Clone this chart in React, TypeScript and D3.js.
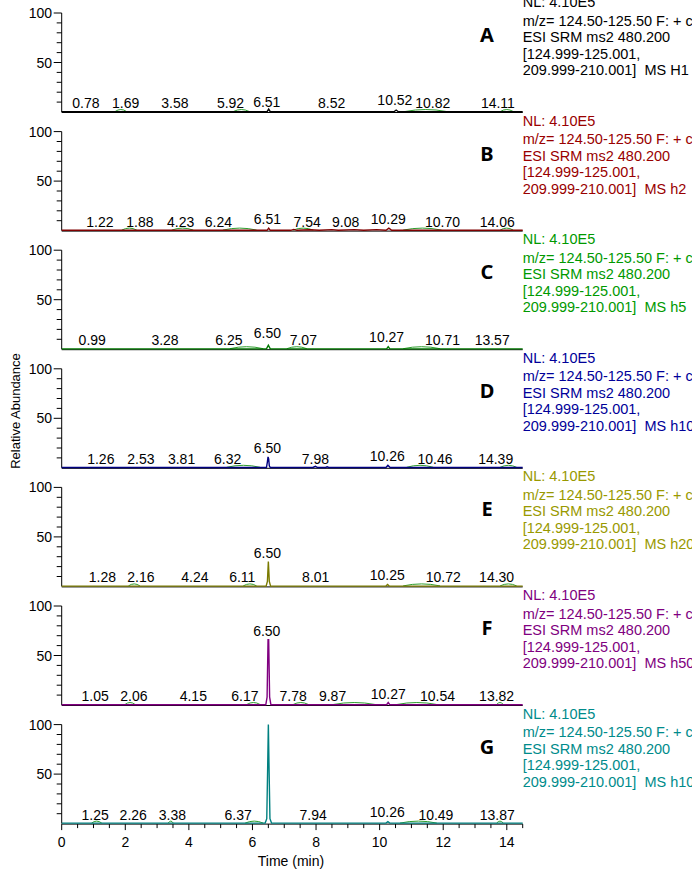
import React from "react";
import * as d3 from "d3";

// ---------- data ----------
const panelIds = ["A", "B", "C", "D", "E", "F", "G"];
const sampleIds = ["MS H1", "MS h2", "MS h5", "MS h10", "MS h20", "MS h50", "MS h100"];
const traceColors = ["#000000", "#800000", "#007800", "#000080", "#7a7a00", "#800080", "#008080"];
const textColors = ["#000000", "#990000", "#009900", "#000099", "#999900", "#800080", "#008b8b"];
const nlText = "NL: 4.10E5";
const mzText = "m/z= 124.50-125.50 F: + c ESI SRM";
const esiText = "ESI SRM ms2 480.200";
const rangeText1 = "[124.999-125.001,";
const rangeText2 = "209.999-210.001]";

const xTicksMajor = [0, 2, 4, 6, 8, 10, 12, 14];
const yTicks = [10, 20, 30, 40, 50, 60, 70, 80, 90, 100];
const yTickLabels = [50, 100];

const labelsA = ["0.78", "1.69", "3.58", "5.92", "6.51", "8.52", "10.52", "10.82", "14.11"];
const posA = [0.76, 2.01, 3.56, 5.31, 6.45, 8.49, 10.48, 11.67, 13.72];
const apexA = [0, 0, 0, 0, 1, 0, 3, 0, 0];
const arcsA = [[1.68, 2.04], [5.4, 5.9], [10.8, 12.1], [13.8, 14.2]];
const timesA = [0, 6.46, 6.51, 6.56, 10.45, 10.52, 10.59, 14.5];
const valsA = [0.3, 0.3, 3, 0.3, 0.3, 2, 0.3, 0.3];

const labelsB = ["1.22", "1.88", "4.23", "6.24", "6.51", "7.54", "9.08", "10.29", "10.70", "14.06"];
const posB = [1.2, 2.46, 3.74, 4.93, 6.47, 7.72, 8.93, 10.27, 11.98, 13.7];
const apexB = [0, 0, 0, 0, 3, 0, 0, 3, 0, 0];
const arcsB = [[1.89, 2.36], [3.46, 4.14], [5.07, 6.13], [7.28, 7.91], [10.74, 11.95], [13.79, 14.2]];
const timesB = [0, 6.46, 6.51, 6.56, 7.2, 7.3, 7.4, 7.8, 8.1, 8.5, 8.7, 9.2, 9.5, 9.9, 10.2, 10.29, 10.38, 14.5];
const valsB = [0.3, 0.3, 2.5, 0.3, 0.3, 1.2, 0.3, 0.8, 0.3, 1, 0.3, 1, 0.4, 1, 0.4, 2.5, 0.3, 0.3];

const labelsC = ["0.99", "3.28", "6.25", "6.50", "7.07", "10.27", "10.71", "13.57"];
const posC = [0.96, 3.25, 5.26, 6.47, 7.6, 10.22, 11.98, 13.54];
const apexC = [0, 0, 0, 7, 0, 3, 0, 0];
const arcsC = [[5.29, 6.34], [7.08, 7.71], [10.74, 11.9]];
const timesC = [0, 6.44, 6.5, 6.56, 10.22, 10.27, 10.32, 14.5];
const valsC = [0.3, 0.3, 4, 0.3, 0.3, 2.5, 0.3, 0.3];

const labelsD = ["1.26", "2.53", "3.81", "6.32", "6.50", "7.98", "10.26", "10.46", "14.39"];
const posD = [1.23, 2.49, 3.77, 5.22, 6.47, 7.98, 10.24, 11.74, 13.65];
const apexD = [0, 0, 0, 0, 11, 0, 2.5, 0, 0];
const arcsD = [[5.19, 6.24], [10.85, 11.69], [13.79, 14.31]];
const timesD = [0, 6.44, 6.47, 6.49, 6.51, 6.53, 6.56, 7.9, 7.98, 8.05, 8.3, 8.35, 8.4, 10.2, 10.26, 10.33, 14.5];
const valsD = [0.3, 0.3, 6, 11, 9, 2, 0.3, 0.3, 1.5, 0.3, 0.3, 1, 0.3, 0.3, 2.5, 0.3, 0.3];

const labelsE = ["1.28", "2.16", "4.24", "6.11", "6.50", "8.01", "10.25", "10.72", "14.30"];
const posE = [1.28, 2.49, 4.19, 5.68, 6.47, 7.99, 10.24, 12.0, 13.68];
const apexE = [0, 0, 0, 0, 25, 0, 2, 0, 0];
const arcsE = [[2.1, 2.46], [5.71, 6.13], [10.74, 11.9], [13.79, 14.31]];
const timesE = [0, 6.43, 6.47, 6.5, 6.53, 6.57, 10.2, 10.25, 10.3, 14.5];
const valsE = [0.3, 0.3, 5, 25, 5, 0.3, 0.3, 2, 0.3, 0.3];

const labelsF = ["1.05", "2.06", "4.15", "6.17", "6.50", "7.78", "9.87", "10.27", "10.54", "13.82"];
const posF = [1.05, 2.27, 4.14, 5.76, 6.45, 7.28, 8.52, 10.27, 11.82, 13.68];
const apexF = [0, 0, 0, 0, 66, 0, 0, 2.5, 0, 0];
const arcsF = [[1.99, 2.31], [5.82, 6.24], [7.28, 7.76], [8.54, 9.86], [10.54, 11.8], [13.68, 13.89]];
const timesF = [0, 6.42, 6.46, 6.49, 6.51, 6.54, 6.58, 10.22, 10.27, 10.32, 14.5];
const valsF = [0.3, 0.3, 8, 66, 66, 8, 0.3, 0.3, 2.5, 0.3, 0.3];

const labelsG = ["1.25", "2.26", "3.38", "6.37", "7.94", "10.26", "10.49", "13.87"];
const posG = [1.05, 2.25, 3.48, 5.55, 7.91, 10.24, 11.77, 13.7];
const apexG = [0, 0, 0, 0, 0, 3, 0, 0];
const arcsG = [[0.94, 1.26], [3.35, 3.51], [5.77, 6.34], [10.64, 11.8], [13.68, 13.89]];
const timesG = [0, 6.4, 6.45, 6.48, 6.5, 6.52, 6.55, 6.6, 10.2, 10.26, 10.32, 14.5];
const valsG = [0.5, 0.5, 5, 60, 100, 60, 5, 0.5, 0.5, 2, 0.5, 0.5];

const allLabels = [labelsA, labelsB, labelsC, labelsD, labelsE, labelsF, labelsG];
const allPos = [posA, posB, posC, posD, posE, posF, posG];
const allApex = [apexA, apexB, apexC, apexD, apexE, apexF, apexG];
const allArcs = [arcsA, arcsB, arcsC, arcsD, arcsE, arcsF, arcsG];
const allTimes = [timesA, timesB, timesC, timesD, timesE, timesF, timesG];
const allVals = [valsA, valsB, valsC, valsD, valsE, valsF, valsG];

// ---------- layout ----------
const W = 692;
const H = 877;
const FONT = "'Liberation Sans', Arial, sans-serif";
const firstTop = 13;
const panelStep = 118.6;
const plotH = 99;

const x = d3.scaleLinear().domain([0, 14.5]).range([61.7, 522.7]);

function Panel({ i }: { i: number }) {
  const top = firstTop + panelStep * i;
  const y = d3.scaleLinear().domain([0, 100]).range([top + plotH, top]);
  const base = top + plotH;
  const pts: [number, number][] = allTimes[i].map((t, k) => [t, allVals[i][k]]);
  const line = d3
    .line<[number, number]>()
    .x((d) => x(d[0]))
    .y((d) => y(d[1]));
  const x0 = x(0);
  const tc = textColors[i];
  const rx = 522.7;
  return (
    <g>
      {/* y axis */}
      <line x1={x0} x2={x0} y1={top} y2={base} stroke="#000" strokeWidth={1} />
      {yTicks.map((t) => {
        const major = yTickLabels.includes(t);
        return (
          <line
            key={t}
            x1={x0 - (major ? 8 : 5)}
            x2={x0}
            y1={y(t)}
            y2={y(t)}
            stroke="#000"
            strokeWidth={1}
          />
        );
      })}
      {yTickLabels.map((t) => (
        <text
          key={t}
          x={52}
          y={y(t) + 5}
          textAnchor="end"
          fontSize={14}
          fontFamily={FONT}
          fill="#000"
        >
          {t}
        </text>
      ))}
      {/* baseline axis */}
      <line x1={x0} x2={x(14.5)} y1={base + 0.5} y2={base + 0.5} stroke="#000" strokeWidth={1} />
      {/* green peak baselines */}
      {allArcs[i].map((a, k) => {
        const xa = x(a[0]);
        const xb = x(a[1]);
        return (
          <path
            key={k}
            d={`M${xa},${base - 0.5} Q${(xa + xb) / 2},${base - 4.5} ${xb},${base - 0.5}`}
            fill="none"
            stroke="#2e9e2e"
            strokeWidth={1}
          />
        );
      })}
      {/* trace */}
      <path d={line(pts) || ""} fill="none" stroke={traceColors[i]} strokeWidth={1.4} />
      {/* peak labels */}
      {allLabels[i].map((lab, k) => (
        <text
          key={k}
          x={x(allPos[i][k])}
          y={y(allApex[i][k]) - 9 + 5}
          textAnchor="middle"
          fontSize={14}
          fontFamily={FONT}
          fill="#000"
        >
          {lab}
        </text>
      ))}
      {/* panel letter */}
      <text
        x={487}
        y={top + 22 + 7}
        textAnchor="middle"
        fontSize={20}
        fontWeight="bold"
        fontFamily="'Noto Sans', 'DejaVu Sans', sans-serif"
        fill="#000"
      >
        {panelIds[i]}
      </text>
      {/* right-hand header text */}
      <g fontSize={14.5} fontFamily={FONT} fill={tc}>
        <text x={rx} y={top - 11 + 5}>{nlText}</text>
        <text x={rx} y={top + 7.5 + 5}>{mzText}</text>
        <text x={rx} y={top + 24 + 5}>{esiText}</text>
        <text x={rx} y={top + 40.5 + 5}>{rangeText1}</text>
        <text x={rx} y={top + 57 + 5}>
          {rangeText2}
          <tspan dx={8}>{sampleIds[i]}</tspan>
        </text>
      </g>
    </g>
  );
}

export default function App() {
  const lastBase = firstTop + panelStep * 6 + plotH;
  const minorX = d3.range(0, 14.5001, 0.5);
  return (
    <svg
      width={W}
      height={H}
      style={{ position: "absolute", left: 0, top: 0, background: "#fff" }}
    >
      <rect x={0} y={0} width={W} height={H} fill="#fff" />
      {panelIds.map((_, i) => (
        <Panel key={i} i={i} />
      ))}
      {/* x axis ticks on bottom panel */}
      {minorX.map((t) => {
        const major = xTicksMajor.includes(t);
        return (
          <line
            key={t}
            x1={x(t)}
            x2={x(t)}
            y1={lastBase + 0.5}
            y2={lastBase + (major ? 6.5 : 4.5)}
            stroke="#000"
            strokeWidth={1}
          />
        );
      })}
      {xTicksMajor.map((t) => (
        <text
          key={t}
          x={x(t)}
          y={846.7}
          textAnchor="middle"
          fontSize={14}
          fontFamily={FONT}
          fill="#000"
        >
          {t}
        </text>
      ))}
      <text
        x={291}
        y={865.7}
        textAnchor="middle"
        fontSize={14}
        fontFamily={FONT}
        fill="#000"
      >
        Time (min)
      </text>
      <text
        transform="translate(15,411) rotate(-90)"
        textAnchor="middle"
        dominantBaseline="central"
        fontSize={13}
        fontFamily={FONT}
        fill="#000"
      >
        Relative Abundance
      </text>
    </svg>
  );
}
